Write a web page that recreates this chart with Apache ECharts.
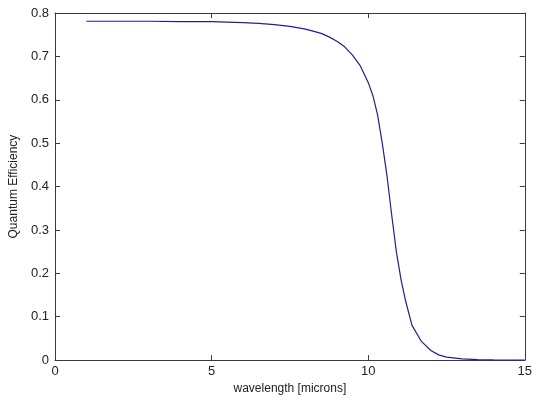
<!DOCTYPE html>
<html>
<head>
<meta charset="utf-8">
<script src="https://cdn.jsdelivr.net/npm/echarts@6/dist/echarts.min.js"></script>
<style>
  html, body { margin: 0; padding: 0; background: #fff; }
  #chart { width: 535px; height: 400px; }
</style>
</head>
<body>
<div id="chart"></div>
<script>
// wavelength (microns) and quantum efficiency
var wavelength = [1, 2, 3, 4, 5, 5.5, 6, 6.5, 7, 7.5, 8, 8.5, 8.75, 9, 9.25, 9.5, 9.75,
  10, 10.15, 10.3, 10.45, 10.6, 10.75, 10.9, 11.05, 11.2, 11.4, 11.7, 12, 12.25,
  12.5, 13, 13.5, 14, 15];
var efficiency = [0.781, 0.781, 0.781, 0.780, 0.780, 0.779, 0.778, 0.776, 0.773, 0.769,
  0.763, 0.753, 0.745, 0.735, 0.722, 0.703, 0.678, 0.640, 0.610, 0.565, 0.500, 0.425,
  0.335, 0.250, 0.185, 0.135, 0.080, 0.043, 0.022, 0.012, 0.007, 0.003, 0.0012, 0.0005,
  0.0002];
var xTicks = [0, 5, 10, 15];
var yTicks = [0, 0.1, 0.2, 0.3, 0.4, 0.5, 0.6, 0.7, 0.8];

var chart = echarts.init(document.getElementById("chart"));

var font = "Liberation Sans, Arial, sans-serif";
var axisColor = "#3a3a3a";

function boxAxis(extra) {
  return Object.assign({
    type: "value",
    axisLine: { show: true, onZero: false, lineStyle: { color: axisColor, width: 1 } },
    axisTick: { show: true, inside: true, length: 5, lineStyle: { color: axisColor } },
    splitLine: { show: false },
    axisLabel: { show: false }
  }, extra);
}

var option = {
  animation: false,
  backgroundColor: "#fff",
  grid: { left: 53, right: 7, top: 13, bottom: 38 },
  xAxis: [
    boxAxis({
      min: xTicks[0], max: xTicks[xTicks.length - 1], interval: 5,
      name: "wavelength [microns]",
      nameLocation: "middle",
      nameGap: 17,
      nameTextStyle: { fontFamily: font, fontSize: 12, color: "#222" },
      axisLabel: { show: true, margin: 5, fontFamily: font, fontSize: 13, color: "#222" }
    }),
    boxAxis({ position: "top", min: 0, max: 15, interval: 5 })
  ],
  yAxis: [
    boxAxis({
      min: yTicks[0], max: yTicks[yTicks.length - 1], interval: 0.1,
      name: "Quantum Efficiency",
      nameLocation: "middle",
      nameGap: 35,
      nameTextStyle: { fontFamily: font, fontSize: 12, color: "#222" },
      axisLabel: { show: true, margin: 6, fontFamily: font, fontSize: 13, color: "#222" }
    }),
    boxAxis({ position: "right", min: 0, max: 0.8, interval: 0.1 })
  ],
  series: [
    {
      type: "line",
      data: wavelength.map(function (w, i) { return [w, efficiency[i]]; }),
      showSymbol: false,
      smooth: false,
      lineStyle: { color: "#20208f", width: 1.2 }
    }
  ]
};

chart.setOption(option);
</script>
</body>
</html>
